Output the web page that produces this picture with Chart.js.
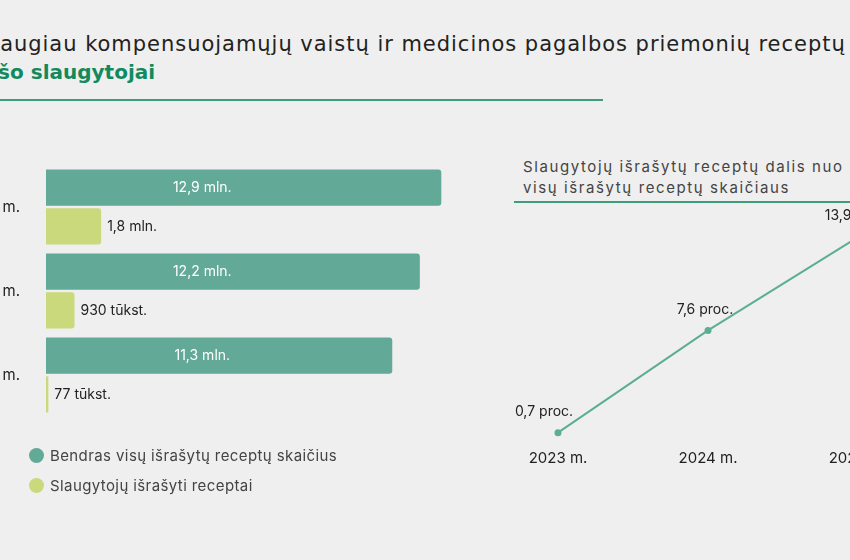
<!DOCTYPE html>
<html lang="lt">
<head>
  <meta charset="UTF-8" />
  <title>Slaugytojų išrašyti receptai</title>
  <script src="https://cdn.jsdelivr.net/npm/chart.js"></script>
  <style>
    body {
      margin: 0;
      background: #efefef;
      font-family: 'Inter', 'Noto Sans', sans-serif;
    }
    #page {
      position: relative;
      width: 850px;
      height: 560px;
      overflow: hidden;
      background: #efefef;
    }
    .title1 {
      position: absolute;
      left: -17px;
      top: 32px;
      font-family: 'DejaVu Sans', sans-serif;
      font-size: 21px;
      letter-spacing: 0.97px;
      color: #222;
      white-space: nowrap;
    }
    .title2 {
      position: absolute;
      left: -44px;
      top: 60px;
      font-family: 'DejaVu Sans', sans-serif;
      font-size: 20px;
      font-weight: 700;
      color: #138a5e;
      white-space: nowrap;
    }
    .rule {
      position: absolute;
      height: 1.5px;
      background: #3d9c7c;
    }
    .subtitle {
      position: absolute;
      left: 523px;
      top: 156px;
      font-size: 15px;
      line-height: 21px;
      color: #444;
      letter-spacing: 1.6px;
      white-space: nowrap;
    }
    .legend {
      position: absolute;
      left: 29px;
      top: 440px;
      font-size: 15px;
      color: #444;
      letter-spacing: 0.4px;
    }
    .legend div {
      display: flex;
      align-items: center;
      height: 30px;
    }
    .legend span {
      display: inline-block;
      width: 15px;
      height: 15px;
      border-radius: 50%;
      margin-right: 6px;
    }
    #barWrap {
      position: absolute;
      left: -60px;
      top: 130px;
      width: 535px;
      height: 322px;
    }
    #lineWrap {
      position: absolute;
      left: 483px;
      top: 196px;
      width: 450px;
      height: 277px;
    }
  </style>
</head>
<body>
<div id="page">
  <div class="title1">Daugiau kompensuojamųjų vaistų ir medicinos pagalbos priemonių receptų</div>
  <div class="title2">išrašo slaugytojai</div>
  <div class="rule" style="left:0;top:99px;width:603px"></div>

  <div id="barWrap"><canvas id="bars"></canvas></div>

  <div class="subtitle">Slaugytojų išrašytų receptų dalis nuo<br>visų išrašytų receptų skaičiaus</div>
  <div class="rule" style="left:514px;top:201px;width:340px"></div>

  <div id="lineWrap"><canvas id="line"></canvas></div>

  <div class="legend" id="legend"></div>
</div>

<script>
  // data (millions of prescriptions)
  const years = ['2025 m.', '2024 m.', '2023 m.'];
  const totalRx = [12.9, 12.2, 11.3];
  const nurseRx = [1.8, 0.93, 0.077];
  const totalText = ['12,9 mln.', '12,2 mln.', '11,3 mln.'];
  const nurseText = ['1,8 mln.', '930 tūkst.', '77 tūkst.'];

  const shareYears = ['2023 m.', '2024 m.', '2025 m.'];
  const sharePct = [0.7, 7.6, 13.9];
  const shareText = ['0,7 proc.', '7,6 proc.', '13,9 proc.'];

  const seriesNames = ['Bendras visų išrašytų receptų skaičius', 'Slaugytojų išrašyti receptai'];
  const colTotal = '#62a998';
  const colNurse = '#c9d97c';
  const colLine = '#5cae93';

  Chart.defaults.font.family = "'Inter', 'Noto Sans', sans-serif";
  Chart.defaults.color = '#222';

  // legend in html
  const legend = document.getElementById('legend');
  [colTotal, colNurse].forEach((c, i) => {
    const row = document.createElement('div');
    row.innerHTML = '<span style="background:' + c + '"></span>' + seriesNames[i];
    legend.append(row);
  });

  const barLabels = {
    id: 'barLabels',
    afterDatasetsDraw(chart) {
      const ctx = chart.ctx;
      const x = chart.scales.x;
      ctx.save();
      ctx.font = '14px Inter';
      ctx.textBaseline = 'middle';
      chart.getDatasetMeta(0).data.forEach((bar, i) => {
        ctx.fillStyle = '#fff';
        ctx.textAlign = 'center';
        ctx.fillText(totalText[i], x.getPixelForValue(5.1), bar.y);
      });
      chart.getDatasetMeta(1).data.forEach((bar, i) => {
        ctx.fillStyle = '#222';
        ctx.textAlign = 'left';
        ctx.fillText(nurseText[i], bar.x + 6, bar.y);
      });
      ctx.restore();
    }
  };

  new Chart(document.getElementById('bars'), {
    type: 'bar',
    data: {
      labels: years,
      datasets: [
        { label: seriesNames[0], data: totalRx, backgroundColor: colTotal, borderRadius: 3, borderSkipped: 'start' },
        { label: seriesNames[1], data: nurseRx, backgroundColor: colNurse, borderRadius: 3, borderSkipped: 'start' }
      ]
    },
    options: {
      indexAxis: 'y',
      responsive: true,
      maintainAspectRatio: false,
      animation: false,
      categoryPercentage: 0.92,
      barPercentage: 0.94,
      layout: { padding: 0 },
      plugins: { legend: { display: false }, tooltip: { enabled: false } },
      scales: {
        x: { display: false, min: 0, max: 14 },
        y: {
          grid: { display: false, drawTicks: false },
          border: { display: false },
          ticks: { padding: 26, font: { size: 15 }, color: '#222' },
          afterFit(s) { s.width = 106; }
        }
      }
    },
    plugins: [barLabels]
  });

  const labelShift = [-14, -3, -1];
  const pointLabels = {
    id: 'pointLabels',
    afterDatasetsDraw(chart) {
      const ctx = chart.ctx;
      ctx.save();
      ctx.font = '14px Inter';
      ctx.fillStyle = '#222';
      ctx.textAlign = 'center';
      ctx.textBaseline = 'middle';
      chart.getDatasetMeta(0).data.forEach((pt, i) => {
        ctx.fillText(shareText[i], pt.x + labelShift[i], pt.y - 21);
      });
      ctx.restore();
    }
  };

  new Chart(document.getElementById('line'), {
    type: 'line',
    data: {
      labels: shareYears,
      datasets: [{
        data: sharePct,
        borderColor: colLine,
        backgroundColor: colLine,
        borderWidth: 2,
        pointRadius: 2.5,
        tension: 0
      }]
    },
    options: {
      responsive: true,
      maintainAspectRatio: false,
      animation: false,
      layout: { padding: { top: 10, left: 0, right: 0, bottom: 0 }, autoPadding: false },
      plugins: { legend: { display: false }, tooltip: { enabled: false } },
      scales: {
        x: {
          offset: true,
          grid: { display: false, drawTicks: false },
          border: { display: false },
          ticks: { padding: 6, font: { size: 15 }, color: '#222' }
        },
        y: { display: false, min: 0, max: 16 }
      }
    },
    plugins: [pointLabels]
  });
</script>
</body>
</html>
